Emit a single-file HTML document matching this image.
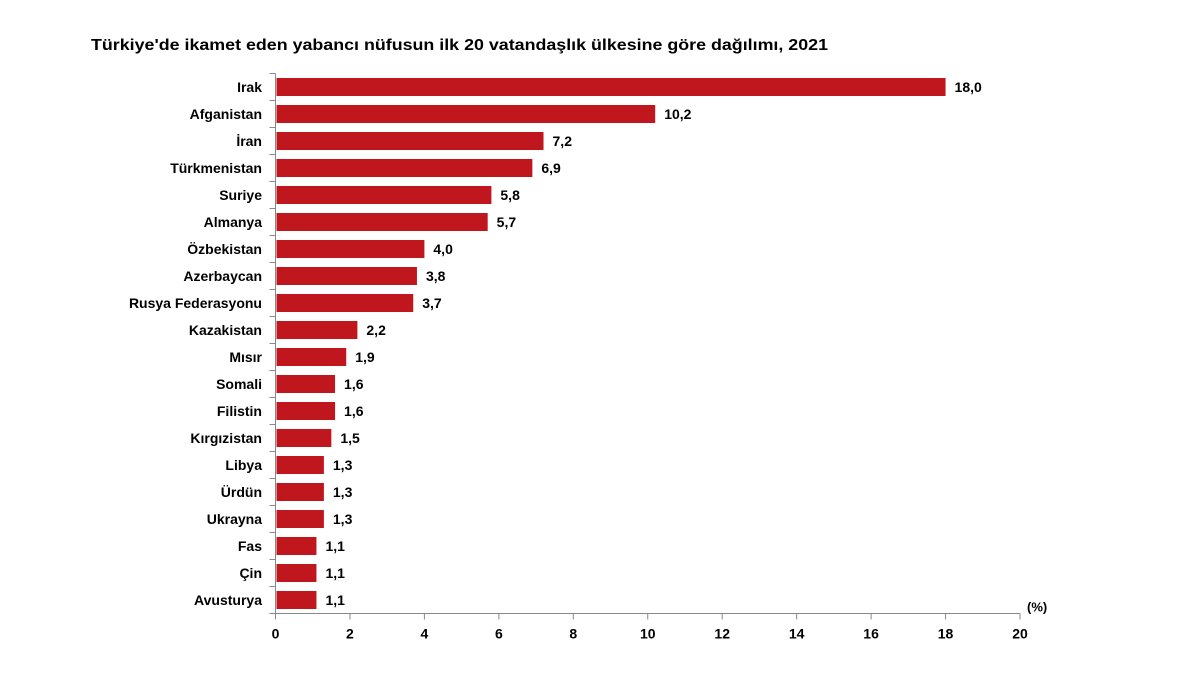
<!DOCTYPE html>
<html><head><meta charset="utf-8"><style>
body{margin:0;background:#fff;}
svg{display:block;font-family:"Liberation Sans",Arial,sans-serif;font-weight:bold;}
</style></head><body>
<svg width="1200" height="694">
<text x="91" y="50" font-size="16" textLength="737" lengthAdjust="spacingAndGlyphs" fill="#000">Türkiye'de ikamet eden yabancı nüfusun ilk 20 vatandaşlık ülkesine göre dağılımı, 2021</text>
<g id="plot"></g>
</svg>
<script>
const categories=["Irak","Afganistan","İran","Türkmenistan","Suriye","Almanya","Özbekistan","Azerbaycan","Rusya Federasyonu","Kazakistan","Mısır","Somali","Filistin","Kırgızistan","Libya","Ürdün","Ukrayna","Fas","Çin","Avusturya"];
const values=[18.0,10.2,7.2,6.9,5.8,5.7,4.0,3.8,3.7,2.2,1.9,1.6,1.6,1.5,1.3,1.3,1.3,1.1,1.1,1.1];
const ticks=[0,2,4,6,8,10,12,14,16,18,20];
const ns="http://www.w3.org/2000/svg";
const g=document.getElementById('plot');
const x0=275.5,x1=1020,xmax=20,yTop=73.5,band=27,barH=18;
const X=v=>x0+(v/xmax)*(x1-x0);
const Y=i=>yTop+i*band;
const yBot=Y(categories.length);
function mk(t,a){const e=document.createElementNS(ns,t);for(const k in a)e.setAttribute(k,a[k]);g.appendChild(e);return e;}
let e;
e=mk('line',{x1:x0,y1:yTop,x2:x0,y2:yBot,stroke:'#888','stroke-width':1});


e=mk('line',{x1:x0,y1:yBot,x2:x1,y2:yBot,stroke:'#888','stroke-width':1});


for(let i=0;i<=categories.length;i++){
 e=mk('line',{x1:x0-6,y1:Y(i),x2:x0,y2:Y(i),stroke:'#888'});
 
 
}
ticks.forEach(t=>{
 e=mk('line',{x1:X(t),y1:yBot,x2:X(t),y2:yBot+6,stroke:'#888'});
 
 
 e=mk('text',{x:X(t),y:yBot+25,'text-anchor':'middle','font-size':14,fill:'#000'});
 e.textContent=t;
 
 
});
e=mk('text',{x:1027,y:yBot-2,'font-size':13,fill:'#000'});
e.textContent='(%)';


categories.forEach((c,i)=>{
 const yc=Y(i)+band/2;
 e=mk('rect',{x:x0+1,y:yc-barH/2,width:X(values[i])-x0-1,height:barH,fill:'#c0171f'});
 
 
 e=mk('text',{x:262,y:yc+5,'text-anchor':'end','font-size':14,fill:'#000'});
 e.textContent=c;
 
 
 e=mk('text',{x:X(values[i])+9,y:yc+5,'font-size':14,fill:'#000'});
 e.textContent=values[i].toFixed(1).replace('.',',');
 
 
});
</script>
</body></html>
